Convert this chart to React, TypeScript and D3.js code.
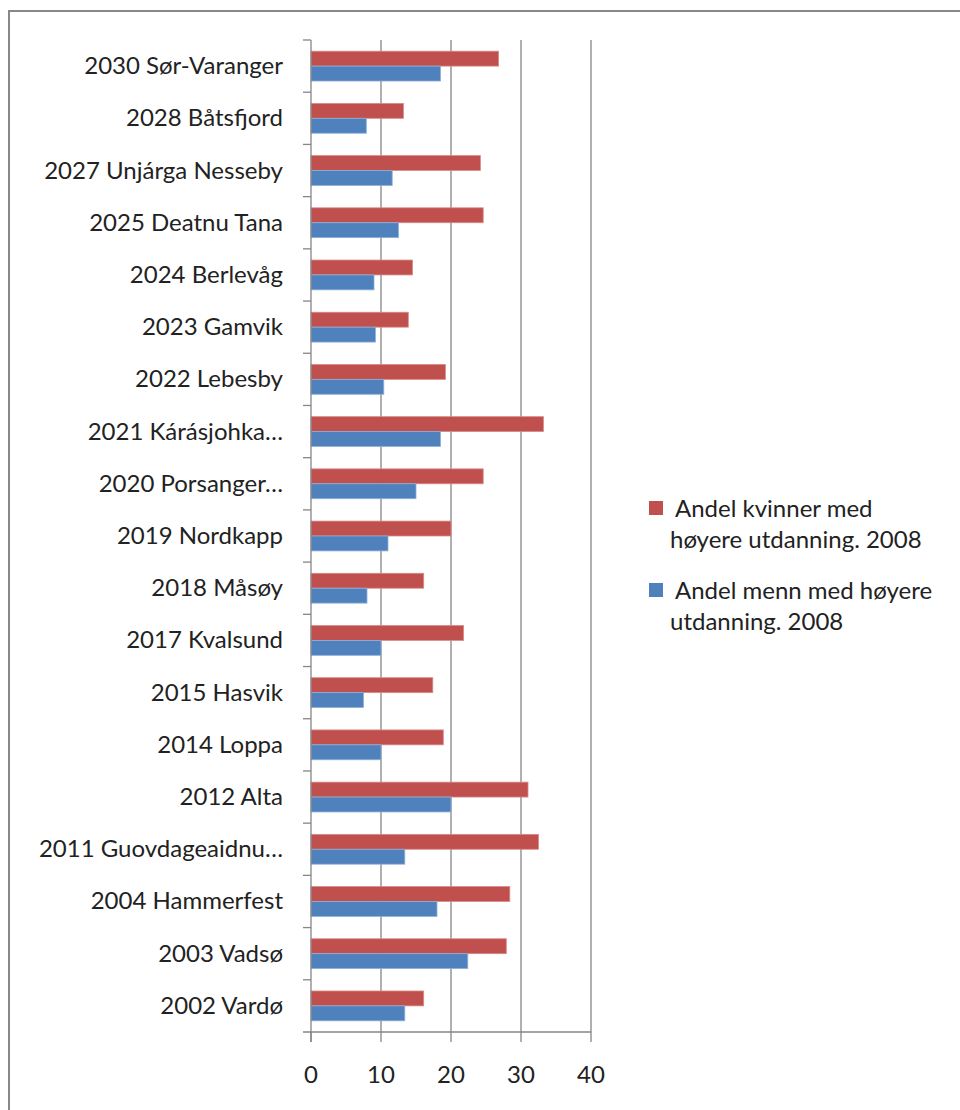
import { scaleBand, scaleLinear } from "d3";

// categories listed top to bottom as they appear
const categories = [
  "2030 Sør-Varanger",
  "2028 Båtsfjord",
  "2027 Unjárga Nesseby",
  "2025 Deatnu Tana",
  "2024 Berlevåg",
  "2023 Gamvik",
  "2022 Lebesby",
  "2021 Kárásjohka…",
  "2020 Porsanger…",
  "2019 Nordkapp",
  "2018 Måsøy",
  "2017 Kvalsund",
  "2015 Hasvik",
  "2014 Loppa",
  "2012 Alta",
  "2011 Guovdageaidnu…",
  "2004 Hammerfest",
  "2003 Vadsø",
  "2002 Vardø",
];

const kvinner = [
  26.8, 13.2, 24.2, 24.6, 14.5, 13.9, 19.2, 33.2, 24.6, 20.0, 16.1, 21.8, 17.4,
  18.9, 31.0, 32.5, 28.4, 27.9, 16.1,
];

const menn = [
  18.5, 7.9, 11.6, 12.5, 9.0, 9.2, 10.4, 18.5, 15.0, 11.0, 8.0, 10.0, 7.5, 10.0,
  20.0, 13.4, 18.0, 22.4, 13.4,
];

const xTicks = [0, 10, 20, 30, 40];

const seriesNames = [
  ["Andel kvinner med", "høyere utdanning. 2008"],
  ["Andel menn med høyere", "utdanning. 2008"],
];

const RED = "#C0504D";
const BLUE = "#4F81BD";
const GRID = "#868686";
const FONT = "Lato, 'Open Sans', sans-serif";

const App = () => {
  const left = 311;
  const right = 591;
  const top = 40;
  const bottom = 1032;

  const x = scaleLinear().domain([0, 40]).range([left, right]);
  const y = scaleBand().domain(categories).range([top, bottom]);
  const bw = y.bandwidth();
  const barH = bw / 3.5;
  const gap = (bw - 2 * barH) / 2;

  return (
    <svg
      width={960}
      height={1110}
      style={{ position: "absolute", left: 0, top: 0, background: "#fff" }}
      fontFamily={FONT}
    >
      <rect x={9} y={11} width={980} height={1120} fill="#fff" stroke="#888" strokeWidth={2} />

      {/* gridlines */}
      {xTicks.slice(1).map((t) => (
        <line key={t} x1={x(t)} x2={x(t)} y1={top} y2={bottom} stroke={GRID} strokeWidth={1.3} />
      ))}

      {/* bars */}
      {categories.map((c, i) => (
        <g key={c}>
          <rect
            x={x(0)}
            y={(y(c) ?? 0) + gap}
            width={x(kvinner[i]) - x(0)}
            height={barH}
            fill={RED}
            stroke="#d88a88"
            strokeWidth={0.8}
          />
          <rect
            x={x(0)}
            y={(y(c) ?? 0) + gap + barH}
            width={x(menn[i]) - x(0)}
            height={barH}
            fill={BLUE}
            stroke="#8fb0d8"
            strokeWidth={0.8}
          />
        </g>
      ))}

      {/* y axis */}
      <line x1={left} x2={left} y1={top} y2={bottom + 10} stroke={GRID} strokeWidth={1.3} />
      {categories.map((c) => (
        <line key={"t" + c} x1={left - 8} x2={left} y1={y(c)} y2={y(c)} stroke={GRID} strokeWidth={1.3} />
      ))}
      <line x1={left - 8} x2={right} y1={bottom} y2={bottom} stroke={GRID} strokeWidth={1.3} />
      {categories.map((c) => (
        <text
          key={"l" + c}
          x={283}
          y={(y(c) ?? 0) + bw / 2 + 8}
          textAnchor="end"
          fontSize={24}
          fill="#222"
        >
          {c}
        </text>
      ))}

      {/* x axis ticks */}
      {xTicks.map((t) => (
        <g key={"x" + t}>
          <line x1={x(t)} x2={x(t)} y1={bottom} y2={bottom + 10} stroke={GRID} strokeWidth={1.3} />
          <text x={x(t)} y={1083} textAnchor="middle" fontSize={24} fill="#222">
            {t}
          </text>
        </g>
      ))}

      {/* legend */}
      {seriesNames.map((lines, i) => {
        const base = 517 + i * 82;
        return (
          <g key={"lg" + i}>
            <rect x={649} y={base - 16} width={14} height={14} fill={i === 0 ? RED : BLUE} />
            <text x={675} y={base} fontSize={24} fill="#222">
              {lines[0]}
            </text>
            <text x={670} y={base + 31} fontSize={24} fill="#222">
              {lines[1]}
            </text>
          </g>
        );
      })}
    </svg>
  );
};

export default App;
